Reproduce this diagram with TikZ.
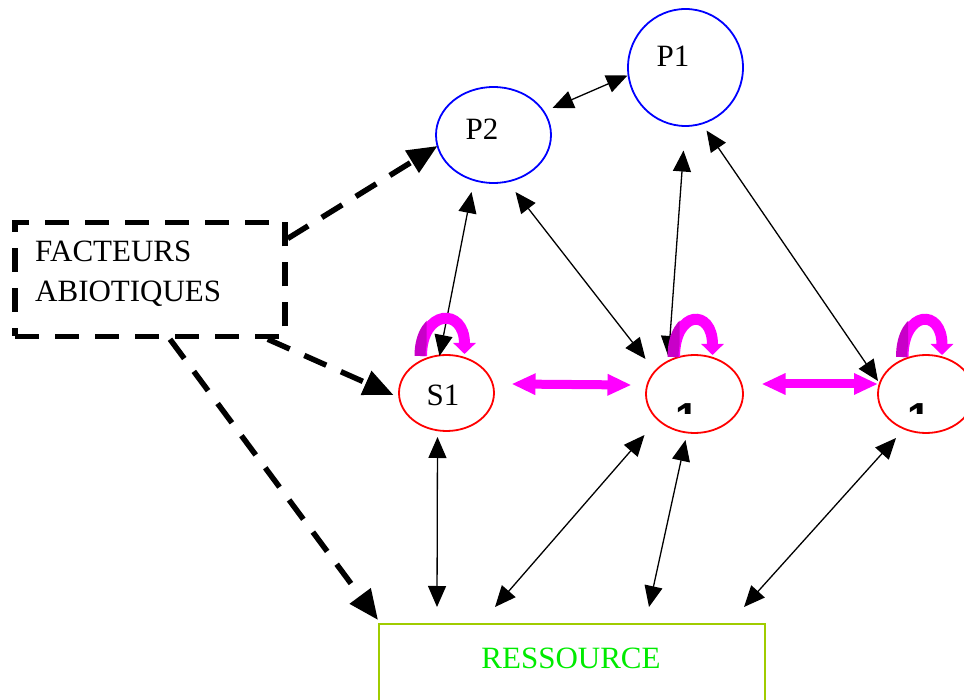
\documentclass[tikz,border=0pt]{standalone}
\usepackage{fontspec}
\setmainfont{Liberation Serif}
\newfontfamily\onefont{Liberation Sans}
\usetikzlibrary{arrows.meta,shapes.geometric}
\definecolor{pblue}{RGB}{0,0,255}
\definecolor{sred}{RGB}{255,0,0}
\definecolor{mag}{RGB}{255,0,255}
\definecolor{magdark}{RGB}{200,0,200}
\definecolor{resline}{RGB}{160,204,0}
\definecolor{restext}{RGB}{0,235,0}
\tikzset{
  txt/.style={font=\fontsize{31}{37}\selectfont, inner sep=0pt},
  onetxt/.style={font=\onefont\bfseries\fontsize{42}{48}\selectfont, inner sep=0pt},
  pnode/.style={ellipse, draw=pblue, line width=1.8pt, inner sep=0pt},
  snode/.style={ellipse, draw=sred, line width=1.8pt, inner sep=0pt},
  link/.style={line width=1.3pt, {Triangle[length=21pt,width=18pt]}-{Triangle[length=21pt,width=18pt]}},
  abio/.style={line width=5.5pt, dash pattern=on 24pt off 16pt, -{Triangle[length=30pt,width=25pt]}},
  magloop/.style={draw=mag, line width=11pt, -{Triangle[length=11pt,width=22pt]}},
  magloopdark/.style={draw=magdark, line width=11pt},
  magdbl/.style={draw=mag, line width=9pt, {Triangle[length=24pt,width=20pt]}-{Triangle[length=24pt,width=20pt]}},
  abox/.style={draw, line width=5.5pt, dash pattern=on 24pt off 16pt, minimum width=270pt, minimum height=114pt, inner sep=0pt},
  rbox/.style={draw=resline, line width=1.5pt, minimum width=386pt, minimum height=140pt, inner sep=0pt, anchor=north west}
}
\begin{document}
\begin{tikzpicture}[x=1pt,y=-1pt]
\useasboundingbox (0,0) rectangle (964,700);

% nodes
\node[pnode, minimum width=115pt, minimum height=117pt] (P1) at (685.5,67.5) {};
\node[txt, anchor=base] (P1t) at (673,67) {P1};
\node[pnode, minimum width=115pt, minimum height=96pt] (P2) at (493.5,135) {};
\node[txt, anchor=base] (P2t) at (482,140) {P2};
\node[snode, minimum width=95pt, minimum height=76pt] (S1) at (446.5,393) {};
\node[txt, anchor=base] (S1t) at (443,406) {S1};
\node[snode, minimum width=97pt, minimum height=78pt] (M) at (694.5,394) {};
\node[snode, minimum width=96pt, minimum height=78pt] (R) at (926,394) {};
\begin{scope}
  \clip (660,398) rectangle (720,413.5);
  \node[onetxt, anchor=base] (Mt) at (687,432) {1};
\end{scope}
\begin{scope}
  \clip (890,398) rectangle (950,413.5);
  \node[onetxt, anchor=base] (Rt) at (919,432) {1};
\end{scope}

\node[abox] (F) at (150,279.5) {};
\node[txt, anchor=base west] (Ft1) at (35,262) {FACTEURS};
\node[txt, anchor=base west] (Ft2) at (35,302) {ABIOTIQUES};

\node[rbox] (Res) at (378,623) {};
\node[txt, anchor=base, text=restext] (Rest) at (571,668) {RESSOURCE};

% black double arrows
\draw[link] ([shift={(59,-27)}]P2.center) -- ([shift={(-58,8)}]P1.center);
\draw[link] ([shift={(-22,57)}]P2.center) -- ([shift={(-7,-37)}]S1.center);
\draw[link] ([shift={(22,57)}]P2.center) -- ([shift={(-49,-35)}]M.center);
\draw[link] ([shift={(-2,83)}]P1.center) -- ([shift={(-26,-37)}]M.center);
\draw[link] ([shift={(21,63)}]P1.center) -- ([shift={(-48,-13)}]R.center);
\draw[link] ([shift={(-9,44)}]S1.center) -- ([shift={(59,-16)}]Res.north west);
\draw[link] ([shift={(-50,41)}]M.center) -- ([shift={(117,-16)}]Res.north west);
\draw[link] ([shift={(-9,46)}]M.center) -- ([shift={(271,-16)}]Res.north west);
\draw[link] ([shift={(-30,44)}]R.center) -- ([shift={(366,-16)}]Res.north west);

% dashed abiotic arrows
\draw[abio] ([shift={(0,-41)}]F.east) -- ([shift={(-56,11)}]P2.center);
\draw[abio] ([shift={(-20,0)}]F.south east) -- ([shift={(-53,2)}]S1.center);
\draw[abio] ([shift={(20,0)}]F.south) -- ([shift={(0,-3)}]Res.north west);

% magenta self loops (left leg offset, right leg offset)
\foreach \n/\a/\b in {S1/-25/18, M/-20/18, R/-23/16}{
  \draw[magloop] ([shift={(\a,-37)}]\n.center) .. controls ([shift={(\a,-84)}]\n.center) and ([shift={(\b,-86)}]\n.center) .. ([shift={(\b,-39)}]\n.center);
  \begin{scope}
    \clip ([shift={(\a-12,-100)}]\n.center) rectangle ([shift={(\a+5,-36)}]\n.center);
    \draw[magloopdark] ([shift={(\a-1.5,-37)}]\n.center) .. controls ([shift={(\a-1.5,-84)}]\n.center) and ([shift={(\b,-86)}]\n.center) .. ([shift={(\b,-50)}]\n.center);
  \end{scope}
}
% magenta double arrows
\draw[magdbl] ([shift={(65,-9)}]S1.center) -- ([shift={(-63,-9)}]M.center);
\draw[magdbl] ([shift={(67,-10)}]M.center) -- ([shift={(-48,-10)}]R.center);
\end{tikzpicture}
\end{document}
